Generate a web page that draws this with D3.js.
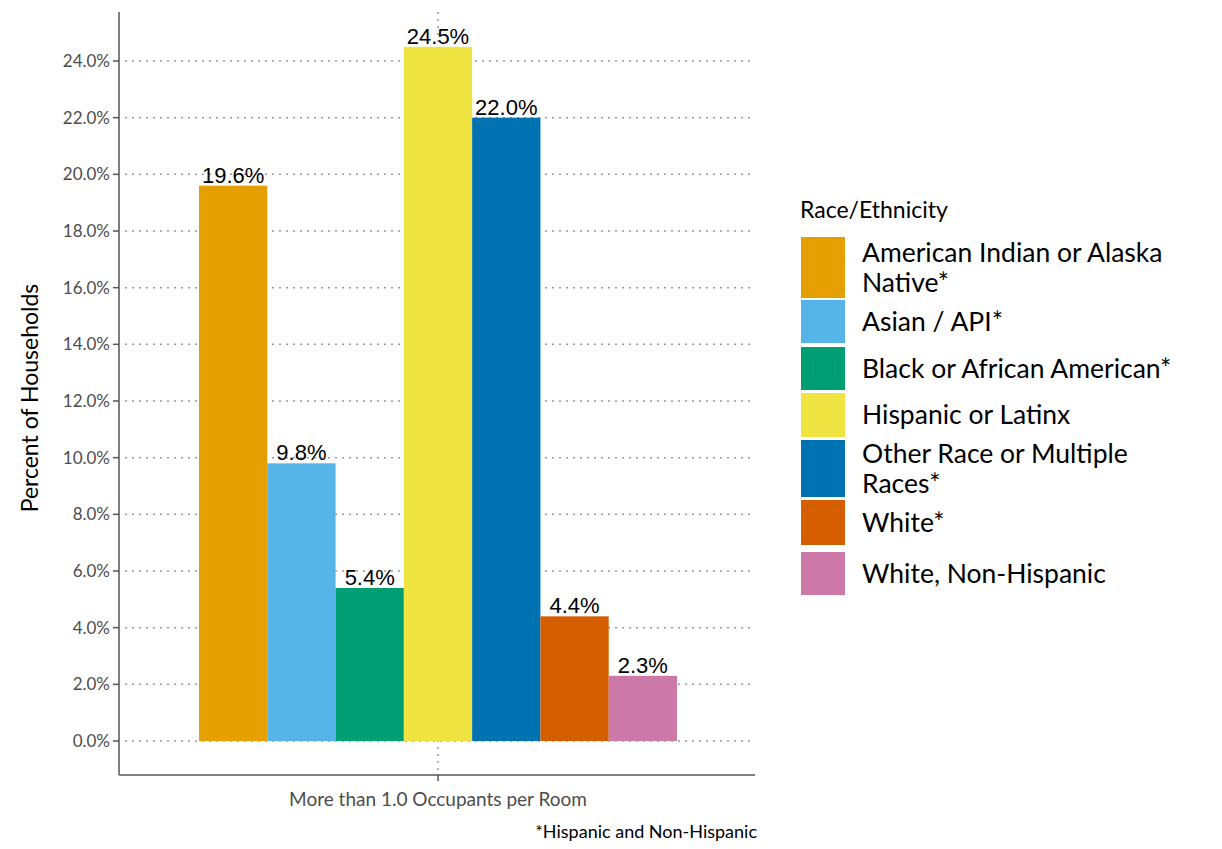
<!DOCTYPE html><html><head><script src="https://cdn.jsdelivr.net/npm/d3@7"></script>
<style>body{margin:0;background:#fff}</style></head><body><svg id="c" width="1222" height="849"></svg>
<script>
const categories=["American Indian or Alaska Native*","Asian / API*","Black or African American*","Hispanic or Latinx","Other Race or Multiple Races*","White*","White, Non-Hispanic"];
const legendLines=[["American Indian or Alaska","Native*"],["Asian / API*"],["Black or African American*"],["Hispanic or Latinx"],["Other Race or Multiple","Races*"],["White*"],["White, Non-Hispanic"]];
const values=[19.6,9.8,5.4,24.5,22.0,4.4,2.3];
const colors=["#E69F00","#56B4E9","#009E73","#F0E442","#0072B2","#D55E00","#CC79A7"];
const yTicks=[0,2,4,6,8,10,12,14,16,18,20,22,24];
const svg=d3.select("#c");
const F="Lato, 'Open Sans', sans-serif";
const y=d3.scaleLinear().domain([0,24]).range([741,61]);
const x=d3.scaleBand().domain(categories).range([199,677]);
svg.selectAll(".g").data(yTicks).join("line").attr("x1",125).attr("x2",755).attr("y1",d=>y(d)).attr("y2",d=>y(d)).attr("stroke","#999").attr("stroke-width",1.5).attr("stroke-dasharray","2,5");
svg.append("line").attr("x1",438).attr("x2",438).attr("y1",12).attr("y2",775).attr("stroke","#999").attr("stroke-width",1.5).attr("stroke-dasharray","2,5");
svg.selectAll(".b").data(values).join("rect").attr("x",(d,i)=>x(categories[i])).attr("width",x.bandwidth()).attr("y",d=>y(d)).attr("height",d=>y(0)-y(d)).attr("fill",(d,i)=>colors[i]);
svg.selectAll(".l").data(values).join("text").attr("x",(d,i)=>x(categories[i])+x.bandwidth()/2).attr("y",d=>y(d)-3).attr("text-anchor","middle").attr("font-family","Liberation Sans, Arial").attr("font-size",22).text(d=>d.toFixed(1)+"%");
svg.append("line").attr("x1",119).attr("x2",119).attr("y1",12).attr("y2",775).attr("stroke","#555").attr("stroke-width",1.5);
svg.append("line").attr("x1",119).attr("x2",755).attr("y1",775).attr("y2",775).attr("stroke","#555").attr("stroke-width",1.5);
svg.append("line").attr("x1",438).attr("x2",438).attr("y1",775).attr("y2",781).attr("stroke","#555").attr("stroke-width",1.5);
svg.selectAll(".t").data(yTicks).join("line").attr("x1",113).attr("x2",119).attr("y1",d=>y(d)).attr("y2",d=>y(d)).attr("stroke","#555").attr("stroke-width",1.5);
svg.selectAll(".tl").data(yTicks).join("text").attr("x",110).attr("y",d=>y(d)+6).attr("text-anchor","end").attr("font-family",F).attr("font-size",17).attr("fill","#4d4d4d").text(d=>d.toFixed(1)+"%");
svg.append("text").attr("x",438).attr("y",806).attr("text-anchor","middle").attr("font-family",F).attr("font-size",19).attr("fill","#4d4d4d").text("More than 1.0 Occupants per Room");
svg.append("text").attr("x",757).attr("y",838).attr("text-anchor","end").attr("font-family",F).attr("font-size",18).text("*Hispanic and Non-Hispanic");
svg.append("text").attr("transform","translate(38,398) rotate(-90)").attr("text-anchor","middle").attr("font-family",F).attr("font-size",23).text("Percent of Households");
svg.append("text").attr("x",800).attr("y",218).attr("font-family",F).attr("font-size",23).text("Race/Ethnicity");
const lt=[237,300,347,393,440,500,552],lb=[298,343,390,437,497,545,595];
legendLines.forEach((ls,i)=>{
 svg.append("rect").attr("x",801).attr("y",lt[i]).attr("width",44).attr("height",lb[i]-lt[i]).attr("fill",colors[i]);
 const mid=(lt[i]+lb[i])/2, n=ls.length;
 ls.forEach((s,j)=>svg.append("text").attr("x",862).attr("y",mid+9+(j-(n-1)/2)*30).attr("font-family",F).attr("font-size",26.5).text(s));
});
</script></body></html>
